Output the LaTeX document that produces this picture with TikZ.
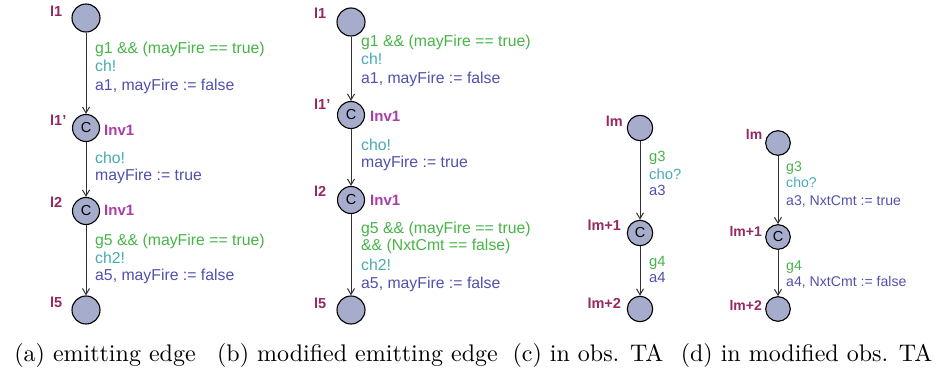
\documentclass[tikz,border=0pt]{standalone}
\usepackage{fontspec}
\newfontfamily\labfont{Liberation Sans}
\newfontfamily\capfont{lmroman10-regular.otf}
\usetikzlibrary{arrows.meta}
\definecolor{locfill}{RGB}{166,172,204}
\definecolor{locname}{RGB}{150,40,95}
\definecolor{invc}{RGB}{170,60,170}
\definecolor{guardc}{RGB}{70,180,70}
\definecolor{syncc}{RGB}{70,170,180}
\definecolor{updc}{RGB}{80,80,175}
\definecolor{edgec}{RGB}{50,50,50}
\tikzset{
  loc/.style={circle, draw=black, fill=locfill, line width=1.1pt, minimum size=#1, inner sep=0pt},
  loc/.default=28pt,
  comm/.style={loc=#1, font=\labfont\fontsize{14.5}{14.5}\selectfont},
  comm/.default=27pt,
  edge/.style={draw=edgec, line width=1pt, -{Straight Barb[length=6pt,width=7pt]}},
  txt/.style={inner sep=0pt, anchor=base west},
  lname/.style={txt, text=locname, font=\labfont\bfseries\fontsize{14.5}{14.5}\selectfont},
  inv/.style={txt, text=invc, font=\labfont\bfseries\fontsize{15}{15}\selectfont},
  gd/.style={txt, text=guardc},
  sy/.style={txt, text=syncc},
  up/.style={txt, text=updc},
  fab/.style={font=\labfont\fontsize{15.8}{18}\selectfont},
  fc/.style={font=\labfont\fontsize{14.8}{17}\selectfont},
  fd/.style={font=\labfont\fontsize{14.1}{16}\selectfont},
  captext/.style={inner sep=0pt, anchor=base, font=\capfont\fontsize{24}{28}\selectfont}
}
\begin{document}
\begin{tikzpicture}[x=1pt,y=-1pt]
\useasboundingbox (0,0) rectangle (940,369);
% ---------- (a)
\node[loc] (a1) at (86,18) {};
\node[comm] (a1p) at (86,128) {C};
\node[comm] (a2) at (86,211) {C};
\node[loc] (a5) at (86,310) {};
\node[lname] (na1) at (50,16.7) {l1};
\node[lname] (na1p) at (50,125) {l1’};
\node[inv] (ia1p) at (104,135) {Inv1};
\node[lname] (na2) at (50,207.3) {l2};
\node[inv] (ia2) at (104,215.7) {Inv1};
\node[lname] (na5) at (50,307.3) {l5};
\draw[edge] (a1) -- (a1p);
\draw[edge] (a1p) -- (a2);
\draw[edge] (a2) -- (a5);
\begin{scope}[every node/.append style={fab}]
\node[gd] (ga1) at (95,53.5) {g1 \&\& (mayFire == true)};
\node[sy] (sa1) at (95,71.7) {ch!};
\node[up] (ua1) at (95,90) {a1, mayFire := false};
\node[sy] (sa2) at (95,163.3) {cho!};
\node[up] (ua2) at (95,180.7) {mayFire := true};
\node[gd] (ga3) at (95,245) {g5 \&\& (mayFire == true)};
\node[sy] (sa3) at (95,263.3) {ch2!};
\node[up] (ua3) at (95,280.7) {a5, mayFire := false};
\end{scope}
% ---------- (b)
\node[loc] (b1) at (351,22) {};
\node[comm] (b1p) at (351,115) {C};
\node[comm] (b2) at (351,200) {C};
\node[loc] (b5) at (351,310) {};
\node[lname] (nb1) at (314,18.3) {l1};
\node[lname] (nb1p) at (314,110) {l1’};
\node[inv] (ib1p) at (370,121.7) {Inv1};
\node[lname] (nb2) at (314,196) {l2};
\node[inv] (ib2) at (370,205) {Inv1};
\node[lname] (nb5) at (314,308.3) {l5};
\draw[edge] (b1) -- (b1p);
\draw[edge] (b1p) -- (b2);
\draw[edge] (b2) -- (b5);
\begin{scope}[every node/.append style={fab}]
\node[gd] (gb1) at (361,46.7) {g1 \&\& (mayFire == true)};
\node[sy] (sb1) at (361,65) {ch!};
\node[up] (ub1) at (361,83.3) {a1, mayFire := false};
\node[sy] (sb2) at (361,150) {cho!};
\node[up] (ub2) at (361,167.7) {mayFire := true};
\node[gd] (gb3) at (361,233.3) {g5 \&\& (mayFire == true)};
\node[gd] (gb3b) at (361,250) {\&\& (NxtCmt == false)};
\node[sy] (sb3) at (361,270.7) {ch2!};
\node[up] (ub3) at (361,288.3) {a5, mayFire := false};
\end{scope}
% ---------- (c)
\node[loc=25.4pt] (c1) at (640,128) {};
\node[comm=25.4pt] (c2) at (640,233) {C};
\node[loc=25.4pt] (c3) at (640,309) {};
\node[lname] (nc1) at (605.7,126) {lm};
\node[lname] (nc2) at (587.3,230.7) {lm+1};
\node[lname] (nc3) at (587.3,308.3) {lm+2};
\draw[edge] (c1) -- (c2);
\draw[edge] (c2) -- (c3);
\begin{scope}[every node/.append style={fc}]
\node[gd] (gc1) at (649,161.7) {g3};
\node[sy] (sc1) at (649,179) {cho?};
\node[up] (uc1) at (649,195.7) {a3};
\node[gd] (gc2) at (649,266.7) {g4};
\node[up] (uc2) at (649,282.7) {a4};
\end{scope}
% ---------- (d)
\node[loc=24.6pt] (d1) at (778,143) {};
\node[comm=24.6pt] (d2) at (778,237) {C};
\node[loc=24.6pt] (d3) at (778,309) {};
\node[lname, font=\labfont\bfseries\fontsize{14}{14}\selectfont] (nd1) at (745.7,139.3) {lm};
\node[lname, font=\labfont\bfseries\fontsize{14}{14}\selectfont] (nd2) at (729.3,236.7) {lm+1};
\node[lname, font=\labfont\bfseries\fontsize{14}{14}\selectfont] (nd3) at (729.3,310) {lm+2};
\draw[edge] (d1) -- (d2);
\draw[edge] (d2) -- (d3);
\begin{scope}[every node/.append style={fd}]
\node[gd] (gd1) at (786,171.7) {g3};
\node[sy] (sd1) at (786,187.7) {cho?};
\node[up] (ud1) at (786,205) {a3, NxtCmt := true};
\node[gd] (gd2) at (786,270) {g4};
\node[up] (ud2) at (786,286) {a4, NxtCmt := false};
\end{scope}
% ---------- captions
\node[captext] (capa) at (105,361) {(a) emitting edge};
\node[captext] (capb) at (357.5,361) {(b) modified emitting edge};
\node[captext] (capc) at (588,361) {(c) in obs. TA};
\node[captext] (capd) at (806.5,361) {(d) in modified obs. TA};
\end{tikzpicture}
\end{document}
